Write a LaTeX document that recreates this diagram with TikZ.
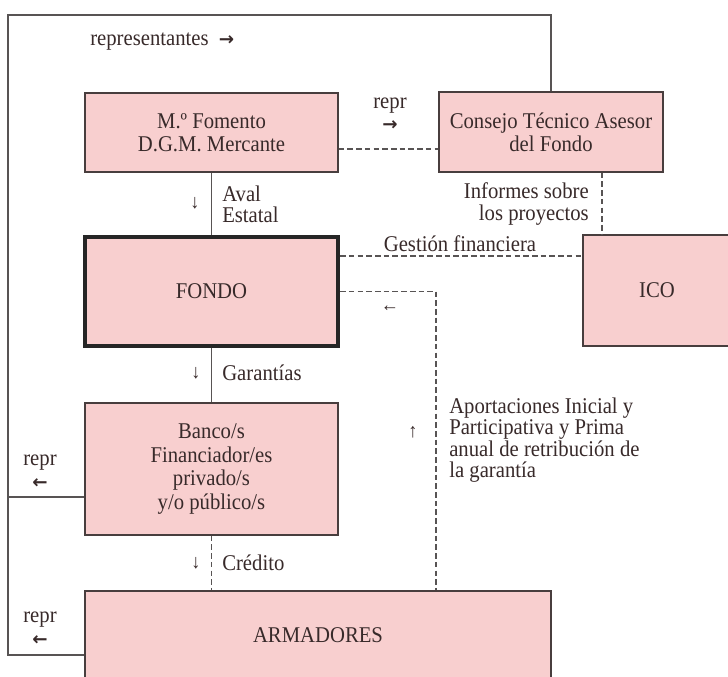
\documentclass[tikz,border=0pt]{standalone}
\usepackage{fontspec}
\setmainfont{Liberation Serif}[FakeStretch=0.92]
\newfontfamily\flechafont{DejaVu Sans}
\usepackage{xcolor}
\usepackage{tikz}
\usetikzlibrary{positioning, calc}
\definecolor{rosacaja}{RGB}{248, 207, 207}
\definecolor{bordecaja}{RGB}{72, 62, 62}
\definecolor{textoosc}{RGB}{56, 42, 42}
\definecolor{lineagris}{RGB}{88, 84, 84}
\newcommand{\flechagruesa}[1]{{\flechafont\bfseries\fontsize{13}{13}\selectfont #1}}

\begin{document}
\begin{tikzpicture}[
  x=0.025cm, y=-0.025cm,
  font=\fontsize{16}{16.4}\selectfont,
  caja/.style={draw=bordecaja, fill=rosacaja, line width=0.9pt, align=center, inner sep=0pt, text=textoosc, minimum width=#1},
  caja/.default=6.325cm,
  linea/.style={draw=lineagris, line width=1pt},
  discont/.style={draw=lineagris, line width=1pt, dash pattern=on 4pt off 2.2pt},
  et/.style={align=left, inner sep=0pt, text=textoosc},
  flechita/.style={font=\fontsize{14}{14}\selectfont, inner sep=0pt, text=textoosc}
]
\clip (0,0) rectangle (728,676);
\fill[white] (0,0) rectangle (728,676);
% Cajas
\node[caja, minimum height=1.975cm] (fomento) at (211.5,132.5) {M.º Fomento\\D.G.M. Mercante};
\node[caja=5.6cm, minimum height=2cm] (consejo) at (551,132) {Consejo Técnico Asesor\\del Fondo};
\node[caja, minimum height=2.725cm, line width=3pt, draw=black!85] (fondo) at (211.5,291.5) {FONDO};
\node[caja=3.7cm, minimum height=2.775cm] (ico) at (657,290.5) {ICO};
\node[caja, minimum height=3.3cm, font=\fontsize{16}{16.9}\selectfont] (banco) at (211.5,469) {Banco/s\\Financiador/es\\privado/s\\y/o público/s};
\node[caja=11.65cm, minimum height=2.2cm] (armadores) at (318,635) {ARMADORES};
% Lineas de representantes
\coordinate (esq) at (8,15);
\draw[linea] (consejo.north) |- (esq) |- ([yshift=-0.5cm]armadores.west);
\draw[linea] ([yshift=-0.7cm]banco.west) coordinate (rb) -- (rb -| esq);
% Conexiones
\draw[discont] ([yshift=-0.41cm]fomento.east) coordinate (fc) -- (fc -| consejo.west);
\draw[linea] (fomento.south) -- (fondo.north);
\draw[discont] ([xshift=1.275cm]consejo.south) coordinate (ci) -- (ci |- ico.north);
\draw[discont] ([yshift=0.89cm]fondo.east) coordinate (fg) -- (fg -| ico.west);
\draw[discont] (fondo.east) -| ([xshift=2.95cm]armadores.north);
\draw[linea] (fondo.south) -- (banco.north);
\draw[discont] (banco.south) -- (banco.south |- armadores.north);
% Etiquetas
\node[et, anchor=west] (repres) at (90,42) {representantes\hspace{0.45em}\flechagruesa{→}};
\node[et, align=center, font=\fontsize{16}{15.5}\selectfont] (reprA) at (390,114) {repr\\\flechagruesa{→}};
\node[flechita] (baja1) at (195,203) {↓};
\node[et, anchor=west, font=\fontsize{16}{15.2}\selectfont] (aval) at (222,204) {Aval\\Estatal};
\node[et, align=right, anchor=east, font=\fontsize{16}{15.2}\selectfont] (informes) at (589,204) {Informes sobre\\los proyectos};
\node[et] (gestion) at (460,244) {Gestión financiera};
\node[flechita] (vuelta) at (390,309) {←};
\node[flechita] (baja2) at (196,373) {↓};
\node[et, anchor=west] (garantias) at (222,373) {Garantías};
\node[flechita] (sube) at (413,432) {↑};
\node[et, anchor=west, font=\fontsize{16}{15.3}\selectfont] (aportes) at (449,440) {Aportaciones Inicial y\\Participativa y Prima\\anual de retribución de\\la garantía};
\node[flechita] (baja3) at (196,563) {↓};
\node[et, anchor=west] (credito) at (222,563) {Crédito};
\node[et, align=center, font=\fontsize{16}{16.5}\selectfont] (reprB) at (40,472) {repr\\\flechagruesa{←}};
\node[et, align=center, font=\fontsize{16}{16.5}\selectfont] (reprC) at (40,629) {repr\\\flechagruesa{←}};
\end{tikzpicture}
\end{document}
